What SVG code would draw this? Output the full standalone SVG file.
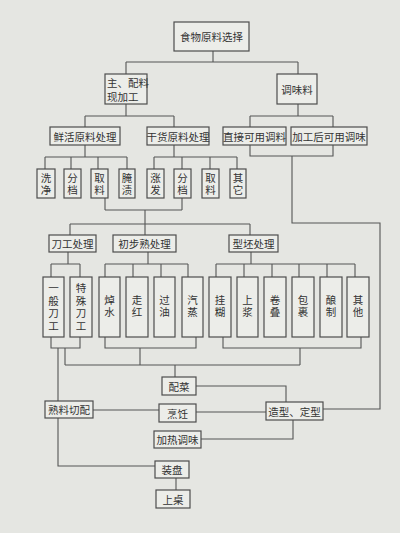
<svg xmlns="http://www.w3.org/2000/svg" width="400" height="533" viewBox="0 0 400 533">
<style>
.b{fill:#ecede9;stroke:#4d4d4d;stroke-width:1.2}
.t{font-family:"Noto Sans CJK SC","Noto Sans CJK JP",sans-serif;font-size:10.5px;fill:#333;text-anchor:middle;dominant-baseline:central}
.v{font-family:"Noto Sans CJK SC","Noto Sans CJK JP",sans-serif;font-size:10.5px;fill:#333;text-anchor:middle;writing-mode:vertical-rl;letter-spacing:1.5px}
.v4{letter-spacing:2px}
.c{fill:none;stroke:#555;stroke-width:1.1}
</style>
<rect width="400" height="533" fill="#e5e6e2"/>
<g id="connectors" class="c">
<path d="M213,51V62M126,62H298M126,62V74M298,62V74"/>
<path d="M126,104V116M85,116H174M85,116V127M174,116V127"/>
<path d="M298,104V116M250,116H333M250,116V127M333,116V127"/>
<path d="M85,145V157M45,157H127M45,157V169M71,157V169M98,157V169M127,157V169"/>
<path d="M174,145V157M154,157H237M154,157V169M182,157V169M210,157V169M237,157V169"/>
<path d="M250,145V156H333V145M292,156V223H380V409H323"/>
<path d="M105,198V210M182,198V210M105,210H182M145,210V235M70,224H250M70,224V235M250,224V235"/>
<path d="M68,252V264M51,264H80M51,264V277M80,264V277"/>
<path d="M148,252V264M105,264H188M105,264V277M133,264V277M161,264V277M188,264V277"/>
<path d="M251,252V264M216,264H355M216,264V277M244,264V277M272,264V277M299,264V277M327,264V277M355,264V277"/>
<path d="M51,337V348H80V337M58,348V401M65,348V365"/>
<path d="M105,337V348H196V337M140,348V365"/>
<path d="M223,337V348H361V337M300,348V365"/>
<path d="M65,365H300M175,365V377"/>
<path d="M196,386H286V402"/>
<path d="M93,410H159M196,412H266"/>
<path d="M293,420V439H201"/>
<path d="M58,418V466H155"/>
<path d="M176,478V490"/>
</g>
<g id="n1"><rect class="b" x="174" y="22" width="75" height="29"/><text class="t" x="211.5" y="36.5">食物原料选择</text></g>
<g id="n2"><rect class="b" x="105" y="74" width="42" height="30"/><text class="t" x="107" y="82.5" style="text-anchor:start">主、配料</text><text class="t" x="107" y="96" style="text-anchor:start">现加工</text></g>
<g id="n3"><rect class="b" x="277" y="74" width="40" height="30"/><text class="t" x="297" y="89">调味料</text></g>
<g id="n4"><rect class="b" x="50" y="127" width="70" height="18"/><text class="t" x="85" y="136">鲜活原料处理</text></g>
<g id="n5"><rect class="b" x="147" y="127" width="62" height="18"/><text class="t" x="178" y="136">干货原料处理</text></g>
<g id="n6"><rect class="b" x="223" y="127" width="63" height="18"/><text class="t" x="254.5" y="136">直接可用调料</text></g>
<g id="n7"><rect class="b" x="291" y="127" width="76" height="18"/><text class="t" x="329" y="136">加工后可用调味</text></g>
<g id="n8"><rect class="b" x="37" y="169" width="18" height="29"/><text class="v" x="46" y="184.5">洗净</text></g>
<g id="n9"><rect class="b" x="64" y="169" width="17" height="29"/><text class="v" x="72.5" y="184.5">分档</text></g>
<g id="n10"><rect class="b" x="91" y="169" width="17" height="29"/><text class="v" x="99.5" y="184.5">取料</text></g>
<g id="n11"><rect class="b" x="119" y="169" width="16" height="29"/><text class="v" x="127" y="184.5">腌渍</text></g>
<g id="n12"><rect class="b" x="147" y="169" width="17" height="29"/><text class="v" x="155.5" y="184.5">涨发</text></g>
<g id="n13"><rect class="b" x="174" y="169" width="17" height="29"/><text class="v" x="182.5" y="184.5">分档</text></g>
<g id="n14"><rect class="b" x="202" y="169" width="17" height="29"/><text class="v" x="210.5" y="184.5">取料</text></g>
<g id="n15"><rect class="b" x="230" y="169" width="16" height="29"/><text class="v" x="238" y="184.5">其它</text></g>
<g id="n16"><rect class="b" x="49" y="235" width="47" height="17"/><text class="t" x="72.5" y="243.5">刀工处理</text></g>
<g id="n17"><rect class="b" x="113" y="235" width="63" height="17"/><text class="t" x="144.5" y="243.5">初步熟处理</text></g>
<g id="n18"><rect class="b" x="229" y="235" width="49" height="17"/><text class="t" x="253.5" y="243.5">型坯处理</text></g>
<g id="n19"><rect class="b" x="43" y="277" width="21" height="60"/><text class="v v4" x="53.5" y="308">一般刀工</text></g>
<g id="n20"><rect class="b" x="70" y="277" width="22" height="60"/><text class="v v4" x="81" y="308">特殊刀工</text></g>
<g id="n21"><rect class="b" x="99" y="277" width="21" height="60"/><text class="v" x="109.5" y="307">焯水</text></g>
<g id="n22"><rect class="b" x="126" y="277" width="22" height="60"/><text class="v" x="137" y="307">走红</text></g>
<g id="n23"><rect class="b" x="154" y="277" width="21" height="60"/><text class="v" x="164.5" y="307">过油</text></g>
<g id="n24"><rect class="b" x="182" y="277" width="21" height="60"/><text class="v" x="192.5" y="307">汽蒸</text></g>
<g id="n25"><rect class="b" x="209" y="277" width="22" height="60"/><text class="v" x="220" y="307">挂糊</text></g>
<g id="n26"><rect class="b" x="237" y="277" width="21" height="60"/><text class="v" x="247.5" y="307">上浆</text></g>
<g id="n27"><rect class="b" x="264" y="277" width="22" height="60"/><text class="v" x="275" y="307">卷叠</text></g>
<g id="n28"><rect class="b" x="292" y="277" width="22" height="60"/><text class="v" x="303" y="307">包裹</text></g>
<g id="n29"><rect class="b" x="320" y="277" width="22" height="60"/><text class="v" x="331" y="307">酿制</text></g>
<g id="n30"><rect class="b" x="347" y="277" width="22" height="60"/><text class="v" x="358" y="307">其他</text></g>
<g id="n31"><rect class="b" x="162" y="377" width="34" height="18"/><text class="t" x="179" y="386">配菜</text></g>
<g id="n32"><rect class="b" x="45" y="401" width="48" height="17"/><text class="t" x="69" y="409.5">熟料切配</text></g>
<g id="n33"><rect class="b" x="159" y="404" width="37" height="18"/><text class="t" x="177.5" y="413">烹饪</text></g>
<g id="n34"><rect class="b" x="266" y="402" width="57" height="18"/><text class="t" x="294.5" y="411">造型、定型</text></g>
<g id="n35"><rect class="b" x="154" y="431" width="47" height="17"/><text class="t" x="177.5" y="439.5">加热调味</text></g>
<g id="n36"><rect class="b" x="155" y="461" width="34" height="17"/><text class="t" x="172" y="469.5">装盘</text></g>
<g id="n37"><rect class="b" x="156" y="490" width="34" height="18"/><text class="t" x="173" y="499">上桌</text></g>
</svg>
